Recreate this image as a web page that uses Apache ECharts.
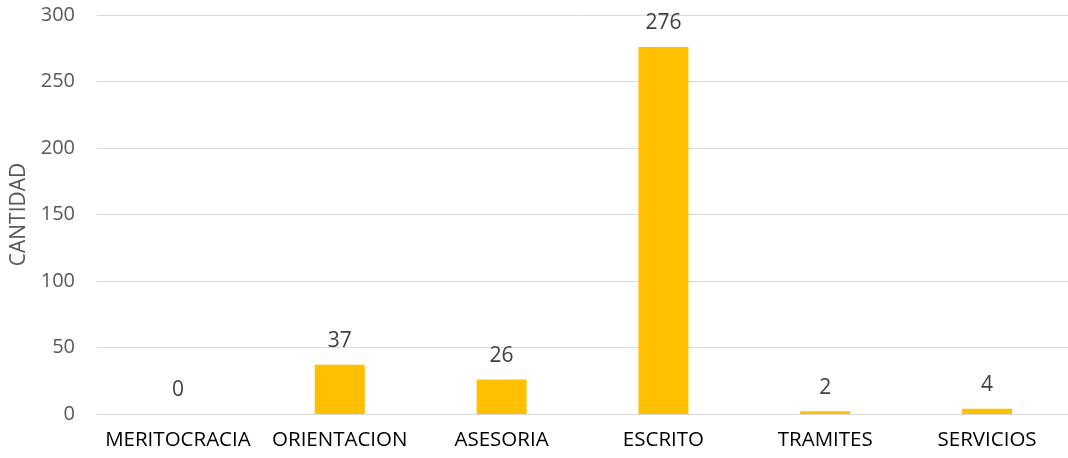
<!DOCTYPE html>
<html><head><meta charset="utf-8">
<script src="https://cdn.jsdelivr.net/npm/echarts@6/dist/echarts.min.js"></script>
<style>html,body{margin:0;padding:0;background:#fff}#c{width:1068px;height:458px}</style>
</head><body><div id="c"></div>
<script>
const categories = ['MERITOCRACIA','ORIENTACION','ASESORIA','ESCRITO','TRAMITES','SERVICIOS'];
const values = [0, 37, 26, 276, 2, 4];
const yTicks = { min: 0, max: 300, interval: 50 };
const yName = 'CANTIDAD';

const chart = echarts.init(document.getElementById('c'));
chart.setOption({
  animation: false,
  grid: { left: 97, right: 0, top: 15, bottom: 44, outerBoundsMode: 'none', containLabel: false },
  xAxis: {
    type: 'category', data: categories,
    axisTick: { show: false },
    axisLine: { lineStyle: { color: '#d9d9d9', width: 1 } },
    axisLabel: { color: '#000', fontFamily: 'Open Sans, sans-serif', fontSize: 20.5, margin: 16, interval: 0 }
  },
  yAxis: {
    type: 'value', min: yTicks.min, max: yTicks.max, interval: yTicks.interval,
    name: yName, nameLocation: 'middle', nameGap: 67,
    nameTextStyle: { color: '#595959', fontFamily: 'Open Sans, sans-serif', fontSize: 21 },
    axisLine: { show: false }, axisTick: { show: false },
    axisLabel: { color: '#595959', fontFamily: 'Open Sans, sans-serif', fontSize: 20, margin: 22 },
    splitLine: { lineStyle: { color: '#d9d9d9', width: 1 } }
  },
  series: [{
    type: 'bar', data: values, barWidth: 50,
    itemStyle: { color: '#FFC000' },
    label: { show: true, position: 'top', distance: 13, color: '#404040', fontFamily: 'Open Sans, sans-serif', fontSize: 21 }
  }]
});
</script></body></html>
